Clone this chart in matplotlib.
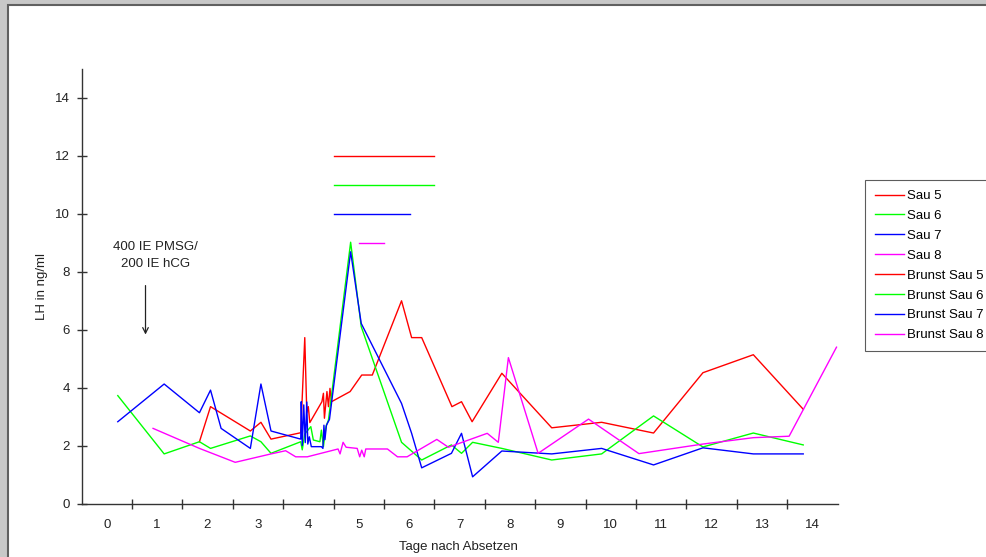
import matplotlib
matplotlib.use('Agg')
import matplotlib.pyplot as plt
from matplotlib.patches import Rectangle

plt.rcParams['font.family'] = ['Liberation Sans', 'DejaVu Sans']

# LH-Werte je Sau (Tage nach Absetzen, ng/ml)
sau5_tage = [1.84, 2.06, 2.85, 3.06, 3.26, 3.85, 3.93, 3.97, 4.00, 4.03, 4.27, 4.30, 4.32,
             4.37, 4.40, 4.43, 4.46, 4.83, 5.06, 5.27, 5.85, 6.05, 6.25, 6.85, 7.04, 7.25,
             7.84, 8.83, 9.82, 10.85, 11.83, 12.83, 13.82]
sau5_lh = [2.13, 3.34, 2.50, 2.80, 2.22, 2.44, 5.72, 3.13, 3.34, 2.79, 3.51, 3.80, 2.94,
           3.86, 3.34, 3.97, 3.51, 3.86, 4.43, 4.43, 6.99, 5.72, 5.72, 3.34, 3.51, 2.82,
           4.49, 2.61, 2.80, 2.43, 4.51, 5.13, 3.25]

sau6_tage = [0.22, 1.14, 1.84, 2.06, 2.85, 3.06, 3.26, 3.85, 3.88, 3.93, 4.05, 4.10, 4.23,
             4.26, 4.30, 4.35, 4.40, 4.84, 5.05, 5.85, 6.25, 6.84, 7.04, 7.26, 7.84, 8.83,
             9.82, 10.85, 11.83, 12.83, 13.82]
sau6_lh = [3.72, 1.71, 2.13, 1.90, 2.33, 2.13, 1.73, 2.13, 1.85, 2.40, 2.65, 2.19, 2.13,
           2.53, 1.96, 2.65, 2.88, 9.01, 6.10, 2.11, 1.50, 2.02, 1.73, 2.11, 1.90, 1.50,
           1.71, 3.02, 1.95, 2.43, 2.02]

sau7_tage = [0.22, 1.14, 1.84, 2.06, 2.27, 2.85, 3.06, 3.26, 3.85, 3.86, 3.88, 3.91, 3.94,
             3.97, 3.99, 4.02, 4.06, 4.26, 4.29, 4.31, 4.33, 4.36, 4.42, 4.84, 5.05, 5.85,
             6.05, 6.25, 6.84, 7.04, 7.26, 7.84, 8.83, 9.82, 10.85, 11.83, 12.83, 13.82]
sau7_lh = [2.82, 4.12, 3.13, 3.91, 2.59, 1.90, 4.12, 2.50, 2.22, 3.51, 2.00, 3.40, 2.10,
           3.50, 2.05, 2.30, 1.96, 1.96, 1.90, 2.70, 2.20, 2.70, 2.90, 8.68, 6.21, 3.45,
           2.42, 1.23, 1.73, 2.42, 0.92, 1.81, 1.71, 1.90, 1.33, 1.92, 1.71, 1.71]

sau8_tage = [0.92, 1.84, 2.55, 3.26, 3.55, 3.75, 3.98, 4.59, 4.63, 4.69, 4.75, 4.97, 5.02,
             5.06, 5.11, 5.14, 5.57, 5.77, 5.96, 6.55, 6.78, 7.55, 7.77, 7.97, 8.56, 9.56,
             10.56, 11.83, 12.83, 13.54, 14.48]
sau8_lh = [2.59, 1.90, 1.42, 1.71, 1.82, 1.61, 1.61, 1.88, 1.71, 2.11, 1.94, 1.90, 1.61,
           1.84, 1.61, 1.88, 1.88, 1.61, 1.61, 2.21, 1.94, 2.42, 2.11, 5.03, 1.73, 2.91,
           1.72, 2.05, 2.27, 2.32, 5.39]

# Brunstzeitraeume
brunst_start = [4.51, 4.51, 4.51, 5.01]
brunst_ende = [6.49, 6.49, 6.02, 5.50]
brunst_hoehe = [12, 11, 10, 9]

farben = ['#ff0000', '#00ff00', '#0000ff', '#ff00ff']
tag_labels = [str(i) for i in range(15)]

fig = plt.figure(figsize=(9.86, 5.57), dpi=100, facecolor='#c8c8c8')
rahmen = Rectangle((8 / 986, -0.05), 1.1, 1 - 5 / 557 + 0.05,
                   transform=fig.transFigure, facecolor='white',
                   edgecolor='#606060', linewidth=1.5, zorder=-10)
fig.patches.append(rahmen)

ax = fig.add_axes([81.5 / 986, 1 - 503.5 / 557, 756 / 986, 435 / 557])
ax.set_facecolor('none')

serien = [(sau5_tage, sau5_lh), (sau6_tage, sau6_lh), (sau7_tage, sau7_lh), (sau8_tage, sau8_lh)]
for i, (t, lh) in enumerate(serien):
    ax.plot(t, lh, color=farben[i], lw=1.0, label='Sau %d' % (i + 5))
for i in range(4):
    ax.plot([brunst_start[i], brunst_ende[i]], [brunst_hoehe[i], brunst_hoehe[i]],
            color=farben[i], lw=1.0, label='Brunst Sau %d' % (i + 5))

ax.set_xlim(-0.5, 14.5)
ax.set_ylim(0, 15)
for s in ['top', 'right']:
    ax.spines[s].set_visible(False)
for s in ['left', 'bottom']:
    ax.spines[s].set_color('#333333')
    ax.spines[s].set_linewidth(1.0)

ax.set_yticks(range(0, 15, 2))
ax.tick_params(axis='y', direction='inout', length=7, width=1, color='#333333',
               labelsize=9.5, pad=5, labelcolor='#222222')
ax.set_xticks(range(15))
ax.set_xticklabels(tag_labels)
ax.set_xticks([k + 0.5 for k in range(14)], minor=True)
ax.tick_params(axis='x', which='major', length=0, labelsize=9.5, pad=11, labelcolor='#222222')
ax.tick_params(axis='x', which='minor', direction='inout', length=7, width=1, color='#333333')

ax.set_xlabel('Tage nach Absetzen', fontsize=9.5, color='#222222', va='center')
ax.xaxis.set_label_coords(0.498, -(547 - 503.5) / 435)
ax.set_ylabel('LH in ng/ml', fontsize=9.5, color='#222222', va='center')
ax.yaxis.set_label_coords(-(81.5 - 41.7) / 756, 0.5)

ax.text(0.96, 8.55, '400 IE PMSG/\n200 IE hCG', ha='center', va='center',
        fontsize=9.5, color='#222222', linespacing=1.5)
ax.annotate('', xy=(0.77, 5.73), xytext=(0.77, 7.61),
            arrowprops=dict(arrowstyle='->', color='#222222', lw=0.9))

leg = ax.legend(loc='upper left', bbox_to_anchor=(865 / 986, 1 - 180 / 557),
                bbox_transform=fig.transFigure, fontsize=9.5, frameon=True,
                fancybox=False, borderaxespad=0, handlelength=2.2, handletextpad=0.2,
                labelspacing=0.58, borderpad=0.75)
leg.get_frame().set_edgecolor('#333333')
leg.get_frame().set_linewidth(0.8)

plt.savefig('out.png', dpi=100, facecolor=fig.get_facecolor())
